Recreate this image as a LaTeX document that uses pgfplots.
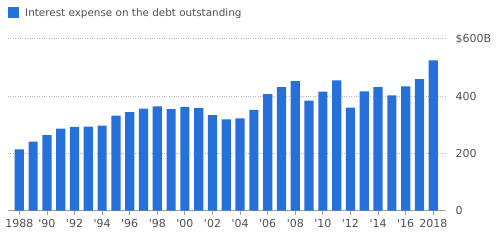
\documentclass[border=0pt]{standalone}
\usepackage{pgfplots}
\pgfplotsset{compat=1.18}
\usepackage{fontspec}
\setmainfont{DejaVu Sans}
\definecolor{barblue}{RGB}{38,112,218}
\definecolor{txt}{RGB}{80,80,80}
\begin{document}
\begin{tikzpicture}[x=1pt,y=1pt]
\useasboundingbox (0,0) rectangle (500,243);
\begin{axis}[
  at={(8pt,32.3pt)}, anchor=south west,
  scale only axis, width=437pt, height=172pt,
  xmin=1987.18, xmax=2018.85, ymin=0, ymax=600,
  ybar, bar width=9.2pt,
  axis x line*=bottom, axis y line*=right,
  y axis line style={draw=none},
  x axis line style={draw=gray!75, line width=0.9pt},
  xtick={1988,1990,...,2018},
  xticklabels={1988,\textquotesingle 90,\textquotesingle 92,\textquotesingle 94,\textquotesingle 96,\textquotesingle 98,\textquotesingle 00,\textquotesingle 02,\textquotesingle 04,\textquotesingle 06,\textquotesingle 08,\textquotesingle 10,\textquotesingle 12,\textquotesingle 14,\textquotesingle 16,2018},
  tick align=outside,
  xtick style={draw=gray!75, line width=0.8pt},
  major tick length=4pt,
  ytick={0,200,400,600},
  yticklabels={0,200,400,\$600B},
  ytick style={draw=none},
  ymajorgrids,
  grid style={dotted, gray!55, line width=0.5pt},
  /pgf/number format/assume math mode=true,
  tick label style={font=\fontsize{11}{13}\selectfont, text=txt},
  yticklabel style={anchor=west, xshift=3pt},
  xticklabel style={yshift=-1.5pt},
  legend style={draw=none, fill=none, at={(axis description cs:0,1)}, anchor=south west,
    yshift=19pt, inner sep=0pt, font=\fontsize{10.4}{13}\selectfont, text=txt,
    /tikz/every even column/.append style={column sep=2pt}},
  legend image code/.code={\fill[barblue] (0pt,-5.5pt) rectangle (11pt,5.5pt);},
  legend cell align=left,
]
\addplot[fill=barblue, draw=none] coordinates {
(1988,214) (1989,241) (1990,264) (1991,286) (1992,292) (1993,293) (1994,297)
(1995,332) (1996,344) (1997,356) (1998,364) (1999,354) (2000,362) (2001,359)
(2002,333) (2003,319) (2004,322) (2005,352) (2006,407) (2007,431) (2008,452)
(2009,384) (2010,415) (2011,455) (2012,360) (2013,416) (2014,431) (2015,402)
(2016,434) (2017,459) (2018,524)
};
\addlegendentry{\hspace{4pt}Interest expense on the debt outstanding}
\end{axis}
\end{tikzpicture}
\end{document}
